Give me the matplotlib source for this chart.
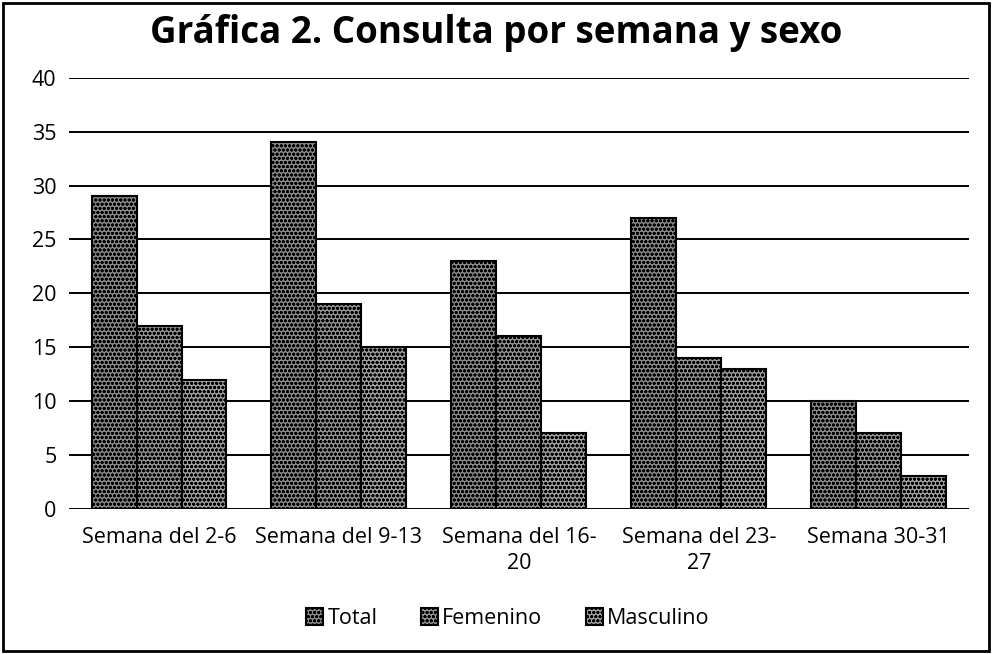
import matplotlib.pyplot as plt
import numpy as np
from matplotlib.patches import Rectangle

plt.rcParams['font.family'] = ['Open Sans', 'DejaVu Sans']
plt.rcParams['hatch.linewidth'] = 0.9

semanas = ["Semana del 2-6", "Semana del 9-13", "Semana del 16-\n20",
           "Semana del 23-\n27", "Semana 30-31"]
total = [29, 34, 23, 27, 10]
femenino = [17, 19, 16, 14, 7]
masculino = [12, 15, 7, 13, 3]

series = [("Total", total, "#8a8a8a"),
          ("Femenino", femenino, "#939393"),
          ("Masculino", masculino, "#a0a0a0")]

fig = plt.figure(figsize=(9.92, 6.54), dpi=100)
ax = fig.add_axes([0.0696, 0.222, 0.907, 0.659])

x = np.arange(len(semanas))
w = 0.25
for i, (name, vals, col) in enumerate(series):
    ax.bar(x + (i - 1) * w, vals, w, color=col, edgecolor="black",
           linewidth=1.5, hatch="oooo", label=name, zorder=3)

ax.set_xlim(-0.5, len(semanas) - 0.5)
ax.set_ylim(0, 40)
ax.set_yticks(range(0, 41, 5))
ax.yaxis.grid(True, color="black", linewidth=1.4)
ax.set_axisbelow(True)
for s in ax.spines.values():
    s.set_visible(False)
ax.tick_params(length=0)
ax.tick_params(axis="y", labelsize=15.5, pad=9)
ax.set_xticks(x)
ax.set_xticklabels(semanas, fontsize=15.5, linespacing=1.3)
ax.tick_params(axis="x", pad=13)

fig.suptitle("Gráfica 2. Consulta por semana y sexo", fontsize=26.5,
             fontweight="bold", y=0.978)

fig.legend(loc="center", bbox_to_anchor=(0.512, 0.054), ncol=3,
           frameon=False, fontsize=15.5, handlelength=0.8, handleheight=0.8,
           handletextpad=0.2, columnspacing=2.0)

fig.add_artist(Rectangle((0.003, 0.004), 0.994, 0.992, transform=fig.transFigure,
                         fill=False, edgecolor="black", linewidth=2))

fig.savefig("out.png", dpi=100)
